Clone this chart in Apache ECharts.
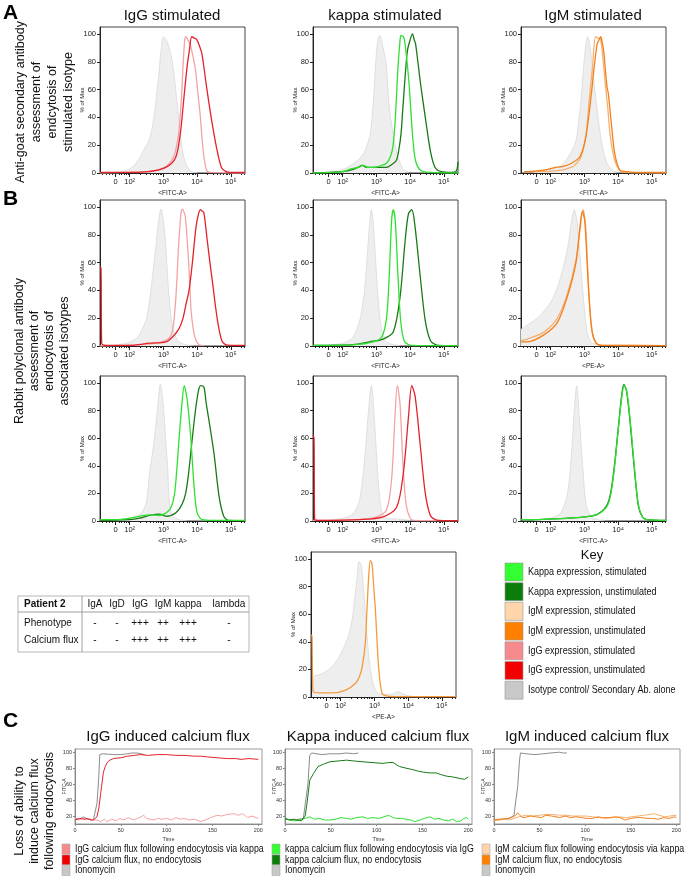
<!DOCTYPE html>
<html>
<head>
<meta charset="utf-8">
<script src="https://cdn.jsdelivr.net/npm/echarts@6/dist/echarts.min.js"></script>
<style>
html, body { margin: 0; padding: 0; background: #fff; }
#main { width: 686px; height: 879px; }
</style>
</head>
<body>
<div id="main"></div>
<script>
// ---- data: histograms, x in decades (logicle display), y in % of max ----
var decadeTicks = [1.58, 2, 3, 4, 5];
var decadeLabels = ['0', '10²', '10³', '10⁴', '10⁵'];
var minorTicks = [1.2, 1.3, 1.4, 1.48, 1.68, 1.76, 1.83, 1.89, 1.95,
    2.3, 2.48, 2.6, 2.7, 2.78, 2.85, 2.9, 2.95,
    3.3, 3.48, 3.6, 3.7, 3.78, 3.85, 3.9, 3.95,
    4.3, 4.48, 4.6, 4.7, 4.78, 4.85, 4.9, 4.95, 5.3, 5.4];
var pctTicks = [0, 20, 40, 60, 80, 100];

// A: anti-goat secondary
var a1Iso = [[1.5,0.5],[1.8,1],[2.0,3],[2.15,6],[2.3,11],[2.45,18],[2.55,22],[2.63,28],[2.72,40],[2.78,52],[2.86,70],[2.93,88],[3.0,98],[3.07,96],[3.15,92],[3.25,82],[3.31,72],[3.41,50],[3.5,28],[3.6,12],[3.72,4],[3.85,1],[4.0,0]];
var a1Stim = [[1.12,0],[2.0,0.5],[2.5,1],[2.8,2],[3.1,5],[3.31,12],[3.45,28],[3.53,52],[3.58,76],[3.63,95],[3.66,98],[3.72,96],[3.8,92],[3.94,76],[4.02,58],[4.09,42],[4.18,16],[4.28,2],[4.4,0.5],[5.42,0]];
var a1Unstim = [[1.12,0.5],[2.0,0.5],[2.58,1],[3.07,4],[3.36,11],[3.5,28],[3.6,52],[3.7,76],[3.77,88],[3.84,98],[3.92,97],[3.99,96],[4.06,92],[4.14,86],[4.28,62],[4.43,38],[4.57,19],[4.72,4],[4.86,1],[5.0,0.5],[5.42,0.5]];

var a2Iso = [[1.6,0.5],[1.95,2],[2.34,7],[2.62,14],[2.75,22],[2.82,28],[2.91,52],[2.98,80],[3.05,97],[3.1,99],[3.16,94],[3.22,88],[3.3,76],[3.39,45],[3.5,28],[3.59,16],[3.78,3],[3.95,0.5]];
var a2Stim = [[1.12,0],[2.0,1],[2.24,3],[2.45,4],[2.62,5.5],[2.75,4],[2.91,4],[3.1,5],[3.3,7],[3.42,12],[3.49,19],[3.55,35],[3.59,52],[3.64,76],[3.7,95],[3.73,99],[3.8,98],[3.83,96],[3.9,82],[3.97,64],[4.07,28],[4.16,9],[4.31,2],[4.55,0.5],[5.42,0]];
var a2Unstim = [[1.12,0],[2.0,1],[2.24,2],[2.45,4],[2.58,5.5],[2.72,4],[3.0,4],[3.3,4],[3.45,6],[3.59,9],[3.66,16],[3.73,28],[3.78,45],[3.83,62],[3.88,78],[3.92,88],[3.98,94],[4.07,100],[4.12,96],[4.16,93],[4.23,80],[4.31,64],[4.45,40],[4.6,16],[4.74,4],[4.93,1],[5.2,0.5],[5.36,1],[5.42,8]];

var a3Iso = [[1.5,0.5],[1.86,2],[2.1,3],[2.33,5.5],[2.52,11.5],[2.65,17],[2.76,24],[2.84,40],[2.9,52],[2.97,75],[3.05,94],[3.1,98],[3.17,90],[3.24,76],[3.31,60],[3.38,45],[3.52,21],[3.67,7],[3.86,1.5],[4.0,0.5]];
var a3Stim = [[1.22,1],[1.8,1],[2.33,2],[2.6,4],[2.71,5.5],[2.9,11.5],[3.05,28],[3.14,52],[3.24,76],[3.33,98],[3.4,97],[3.48,96],[3.55,82],[3.62,64],[3.7,45],[3.76,28],[3.9,9],[4.05,2],[4.2,0.5],[5.42,0]];
var a3Unstim = [[1.22,1],[1.29,1],[1.8,2],[2.14,4],[2.4,5],[2.62,7],[2.86,11.5],[3.0,21],[3.07,30],[3.14,43],[3.22,60],[3.29,76],[3.38,93],[3.44,96],[3.48,98],[3.52,95],[3.57,88],[3.62,75],[3.67,62],[3.71,57],[3.74,50],[3.81,33],[3.9,14],[4.05,2],[4.24,1],[4.5,0.5],[5.42,0.5]];

// B: rabbit polyclonal
var b1Iso = [[1.5,0.5],[1.9,2],[2.1,4],[2.24,6.5],[2.35,11],[2.49,19],[2.56,28],[2.63,40],[2.7,55],[2.78,72],[2.85,88],[2.93,98.5],[3.0,90],[3.07,72],[3.12,52],[3.17,35],[3.27,14],[3.42,4],[3.66,1],[3.9,0.5]];
var b1Stim = [[1.12,0],[2.39,1],[2.8,2],[3.07,4],[3.2,6.5],[3.27,11],[3.32,20],[3.37,35],[3.41,52],[3.45,72],[3.49,86],[3.52,95],[3.56,98.5],[3.6,97],[3.65,93],[3.7,78],[3.75,60],[3.79,40],[3.83,23],[3.93,6.5],[4.05,1],[4.2,0.3]];
var b1Unstim = [[1.12,57],[1.15,56],[1.17,2],[1.3,0.5],[2.0,0.5],[2.59,2],[3.08,3],[3.27,6.5],[3.45,12],[3.57,19],[3.67,30],[3.76,40],[3.86,60],[3.96,84],[4.03,94],[4.1,98],[4.15,97],[4.2,96],[4.3,76],[4.38,60],[4.45,47],[4.6,19],[4.73,4],[4.84,1],[5.0,0.5],[5.42,0.5]];

var b2Iso = [[1.5,0.5],[2.0,2],[2.3,6],[2.5,18],[2.58,28],[2.65,40],[2.75,72],[2.8,88],[2.85,98],[2.9,90],[2.95,72],[3.05,35],[3.15,12],[3.3,3],[3.5,1],[3.7,0.3]];
var b2Stim = [[1.12,0.5],[2.4,1],[2.9,3],[3.15,6],[3.3,20],[3.38,50],[3.45,90],[3.5,98],[3.56,90],[3.64,50],[3.72,18],[3.82,4],[3.95,1],[4.2,0.3],[5.42,0.3]];
var b2Unstim = [[1.12,0.5],[2.3,1],[2.8,3],[3.2,5],[3.5,10],[3.7,35],[3.85,75],[3.95,95],[4.05,98],[4.15,85],[4.3,50],[4.45,18],[4.6,4],[4.75,1],[5.0,0.3],[5.42,0.3]];

var b3Iso = [[1.12,12],[1.3,15],[1.6,20],[1.9,28],[2.1,36],[2.3,50],[2.5,70],[2.62,90],[2.7,98],[2.78,90],[2.88,62],[2.98,32],[3.08,10],[3.2,3],[3.4,1],[3.6,0.3]];
var b3Stim = [[1.12,4],[1.3,5],[1.8,10],[2.2,20],[2.5,38],[2.75,62],[2.88,85],[2.96,98],[3.04,85],[3.1,55],[3.17,25],[3.25,8],[3.35,2],[3.5,0.5],[5.42,0.3]];
var b3Unstim = [[1.12,3],[1.3,3],[1.8,8],[2.2,17],[2.5,36],[2.75,60],[2.86,84],[2.94,97],[3.01,90],[3.08,60],[3.15,30],[3.23,10],[3.35,2],[3.5,0.5],[5.42,0.3]];

var b4Iso = [[1.5,0.5],[1.9,1.5],[2.29,4.5],[2.42,9],[2.49,13],[2.55,25],[2.59,35],[2.67,48],[2.74,61],[2.82,80],[2.91,99],[2.97,90],[3.03,73],[3.08,55],[3.13,37],[3.18,13],[3.28,3.4],[3.47,1],[3.7,0.3]];
var b4Stim = [[1.12,1],[1.6,1],[2.29,3.4],[2.59,4.5],[2.88,4],[3.18,8],[3.32,18],[3.4,38],[3.47,61],[3.55,85],[3.62,98],[3.67,93],[3.72,85],[3.81,61],[3.91,25],[4.0,6],[4.15,1],[4.5,0.5],[5.42,0.5]];
var b4Unstim = [[1.12,0.5],[2.0,1],[2.29,2],[2.59,4],[2.88,5],[3.08,3.4],[3.37,6],[3.55,12],[3.66,20],[3.75,35],[3.81,49],[3.88,65],[3.95,80],[4.03,93],[4.1,98],[4.2,97],[4.27,85],[4.35,73],[4.5,49],[4.65,18],[4.79,3.4],[4.94,0.5],[5.42,0.3]];

var b5Iso = [[1.5,0.5],[2.0,2],[2.3,5],[2.5,15],[2.65,45],[2.75,75],[2.85,98],[2.95,70],[3.05,30],[3.15,8],[3.3,2],[3.6,1.5],[4.0,0.5]];
var b5Stim = [[1.12,0.5],[2.5,1],[3.0,3],[3.3,8],[3.45,30],[3.55,75],[3.62,98],[3.7,85],[3.78,45],[3.88,12],[4.0,2],[4.1,0.5],[5.42,0.2]];
var b5Unstim = [[1.12,62],[1.15,60],[1.17,1],[1.3,0.5],[2.5,1],[3.2,3],[3.6,10],[3.8,35],[3.95,75],[4.05,98],[4.15,90],[4.3,55],[4.45,20],[4.6,4],[4.75,1],[5.0,0.3],[5.42,0.3]];

var b6Iso = [[1.5,0.5],[2.0,2],[2.3,6],[2.5,20],[2.62,50],[2.7,80],[2.77,98],[2.85,75],[2.95,40],[3.05,12],[3.2,3],[3.4,1],[3.6,0.3]];
var b6Stim = [[1.12,1],[1.3,1],[2.5,2],[3.0,3],[3.4,5],[3.7,12],[3.85,30],[4.0,65],[4.1,88],[4.18,98],[4.25,95],[4.35,75],[4.48,40],[4.6,12],[4.72,3],[4.85,1],[5.42,0.5]];
var b6Unstim = [[1.12,1],[1.3,1],[2.5,2],[3.0,3],[3.4,5],[3.7,13],[3.85,32],[4.0,66],[4.1,90],[4.17,99],[4.25,94],[4.35,73],[4.48,38],[4.6,11],[4.72,3],[4.85,1],[5.42,0.5]];

var b7Iso = [[1.15,14],[1.2,15],[1.46,17],[1.75,22],[1.95,29],[2.15,39],[2.25,46],[2.34,56],[2.42,72],[2.49,87],[2.54,98],[2.58,97],[2.62,94],[2.69,75],[2.78,44],[2.88,20],[3.03,5],[3.22,2],[3.5,2],[3.71,4],[3.86,2],[4.11,0.5],[4.5,0.2]];
var b7Unstim = [[1.12,45],[1.15,44],[1.18,4],[1.4,3],[1.75,3],[2.15,5],[2.44,10],[2.56,15],[2.64,22],[2.73,39],[2.78,63],[2.83,87],[2.88,99],[2.93,96],[2.98,80],[3.03,63],[3.08,40],[3.13,20],[3.22,3],[3.32,1],[3.6,0.3],[5.42,0.2]];

// C: calcium flux, x = time, y = FITC-A
var timeTicks = [0, 50, 100, 150, 200];
var fluxTicks = [20, 40, 60, 80, 100];
var c1Iono = [[0,17],[5,16],[9,19],[14,16],[20,15],[22,17],[24,36],[26,70],[27,97],[30,98],[42,97],[50,97],[57,98],[62,99],[68,99],[70,97],[76,97]];
var c1NoEndo = [[0,15],[5,17],[10,16],[13,17],[17,15],[20,15],[22,16],[24,19],[26,30],[28,48],[29,57],[31,75],[33,82],[35,87],[38,90],[42,92],[50,93],[57,95],[65,96],[71,97],[80,96],[90,97],[100,97],[110,96],[120,96],[130,95],[137,95],[145,94],[155,93],[166,92],[175,92],[181,91],[190,92],[200,91]];
var c1Endo = [[0,17],[4,15],[8,17],[12,15],[16,17],[20,15],[24,15],[28,13],[32,16],[35,13],[40,16],[45,14],[49,17],[53,15],[58,18],[64,15],[68,17],[72,19],[75,21],[78,17],[82,16],[86,15],[90,17],[95,16],[100,17],[105,15],[110,18],[115,16],[119,17],[125,15],[130,16],[137,13],[142,15],[148,18],[155,21],[160,20],[166,22],[173,23],[178,21],[183,23],[188,18],[193,20],[200,17]];
var c2Iono = [[0,16],[10,15],[20,17],[22,16],[25,60],[27,96],[29,99],[40,97],[49,98],[60,98],[67,99],[75,98],[80,99]];
var c2NoEndo = [[0,17],[5,15],[10,16],[13,15],[18,14],[20,16],[22,20],[24,36],[27,65],[31,73],[36,82],[42,85],[49,88],[58,89],[67,90],[75,89],[85,88],[95,87],[107,86],[113,87],[118,87],[122,84],[125,82],[132,80],[140,78],[146,76],[151,75],[158,74],[165,74],[170,72],[176,70],[183,69],[191,67],[196,66],[200,69]];
var c2Endo = [[0,17],[5,15],[9,14],[13,14],[18,16],[22,17],[27,19],[32,16],[38,17],[43,15],[49,15],[55,16],[61,18],[67,17],[72,16],[78,18],[85,19],[90,17],[96,18],[102,17],[108,19],[113,21],[118,18],[122,17],[127,17],[132,16],[137,15],[142,13],[147,15],[152,17],[158,19],[163,16],[168,17],[173,15],[178,14],[183,16],[187,13],[192,14],[195,17],[198,18],[200,16]];
var c3Iono = [[0,15],[8,16],[17,17],[22,21],[24,40],[26,57],[28,90],[29,99],[35,98],[45,97],[54,98],[62,99],[72,100],[76,99],[80,99]];
var c3NoEndo = [[0,15],[5,16],[10,16],[15,17],[21,19],[24,21],[26,24],[27,26],[28,22],[30,19],[33,18],[35,17],[40,20],[46,19],[52,18],[57,21],[63,20],[68,19],[72,18],[78,20],[84,18],[90,19],[96,18],[102,17],[108,17],[114,19],[119,18],[126,18],[133,19],[138,18],[144,15],[150,17],[156,18],[162,18],[168,17],[174,17],[180,16],[186,18],[192,17],[198,19],[200,18]];
var c3Endo = [[0,14],[6,15],[12,16],[17,15],[22,17],[27,19],[31,20],[35,21],[42,20],[50,21],[57,22],[64,22],[72,21],[79,21],[86,20],[94,20],[101,20],[108,19],[116,18],[123,17],[130,18],[138,19],[145,18],[151,19],[158,20],[165,21],[171,22],[175,23],[181,21],[187,19],[193,20],[200,21]];

// table + keys
var tableCols = ['IgA', 'IgD', 'IgG', 'IgM', 'kappa', 'lambda'];
var phenotype = ['-', '-', '+++', '++', '+++', '-'];
var calciumFlux = ['-', '-', '+++', '++', '+++', '-'];
var keyLabels = ['Kappa expression, stimulated', 'Kappa expression, unstimulated', 'IgM expression, stimulated',
    'IgM expression, unstimulated', 'IgG expression, stimulated', 'IgG expression, unstimulated',
    'Isotype control/ Secondary Ab. alone'];
var c1Legend = ['IgG calcium flux following endocytosis via kappa', 'IgG calcium flux, no endocytosis', 'Ionomycin'];
var c2Legend = ['kappa calcium flux following endocytosis via IgG', 'kappa calcium flux, no endocytosis', 'Ionomycin'];
var c3Legend = ['IgM calcium flux following endocytosis via kappa', 'IgM calcium flux, no endocytosis', 'Ionomycin'];

// ---- styles ----
var FONT = '"Liberation Sans", Arial, sans-serif';
var isoFill = '#EEEEEE', isoLine = '#D9D9D9';
var colRed = '#E3222A', colPink = '#F4A2A4', colGreen = '#2FE02F', colDkGreen = '#177A17';
var colOrange = '#F2801E', colLtOrange = '#F6B070', colIono = '#6E6E6E';
var keyColors = ['#33FF33', '#0A7D0A', '#FFD6AC', '#FF8000', '#F78A8C', '#F00000', '#C8C8C8'];

var chart = echarts.init(document.getElementById('main'));
var grids = [], xAxes = [], yAxes = [], series = [], graphics = [];

function fmtDecade(v) {
    for (var i = 0; i < decadeTicks.length; i++) {
        if (Math.abs(decadeTicks[i] - v) < 0.01) return decadeLabels[i];
    }
    return '';
}

function hist(left, top, height, xName, curves) {
    var gi = grids.length;
    grids.push({left: left, top: top, width: 145, height: height, show: true,
        borderColor: '#444', borderWidth: 1, outerBoundsMode: 'none', containLabel: false});
    var xi = xAxes.length;
    xAxes.push({
        gridIndex: gi, type: 'value', position: 'bottom', min: 1.12, max: 5.42,
        name: xName, nameLocation: 'middle', nameGap: 17, nameMoveOverlap: false,
        nameTextStyle: {fontSize: 6.5, color: '#222'},
        axisLine: {onZero: false, lineStyle: {color: '#222', width: 1}},
        axisTick: {customValues: decadeTicks, length: 4, lineStyle: {color: '#222'}},
        axisLabel: {customValues: decadeTicks, formatter: fmtDecade, fontSize: 7.5, color: '#222', margin: 5},
        splitLine: {show: false}
    });
    xAxes.push({
        gridIndex: gi, type: 'value', position: 'bottom', min: 1.12, max: 5.42,
        axisLine: {show: false}, axisLabel: {show: false}, splitLine: {show: false},
        axisTick: {customValues: minorTicks, length: 2, lineStyle: {color: '#222'}}
    });
    var yi = yAxes.length;
    yAxes.push({
        gridIndex: gi, type: 'value', min: 0, max: 105,
        name: '% of Max', nameLocation: 'middle', nameGap: 15, nameMoveOverlap: false,
        nameTextStyle: {fontSize: 6, color: '#222'},
        axisLine: {show: true, onZero: false, lineStyle: {color: '#222'}},
        axisTick: {customValues: pctTicks, length: 3, lineStyle: {color: '#222'}},
        axisLabel: {customValues: pctTicks, fontSize: 7.5, color: '#222', margin: 4},
        splitLine: {show: false}
    });
    curves.forEach(function (c) {
        var s = {type: 'line', xAxisIndex: xi, yAxisIndex: yi, data: c.data, symbol: 'none',
            smooth: 0.3, silent: true, lineStyle: {color: c.color, width: c.iso ? 0.8 : 1.3}};
        if (c.iso) s.areaStyle = {color: isoFill, opacity: 1};
        series.push(s);
    });
}

function flux(left, width, curves) {
    var gi = grids.length;
    grids.push({left: left, top: 749, width: width, height: 75, show: true,
        borderColor: '#999', borderWidth: 1, outerBoundsMode: 'none', containLabel: false});
    var xi = xAxes.length;
    xAxes.push({
        gridIndex: gi, type: 'value', position: 'bottom', min: 0, max: 204,
        name: 'Time', nameLocation: 'middle', nameGap: 12, nameMoveOverlap: false,
        nameTextStyle: {fontSize: 5.5, color: '#333'},
        axisLine: {onZero: false, lineStyle: {color: '#888'}},
        axisTick: {customValues: timeTicks, length: 2, lineStyle: {color: '#888'}},
        axisLabel: {customValues: timeTicks, fontSize: 5.5, color: '#333', margin: 3},
        splitLine: {show: false}
    });
    var yi = yAxes.length;
    yAxes.push({
        gridIndex: gi, type: 'value', min: 10, max: 104,
        name: 'FITC-A', nameLocation: 'middle', nameGap: 8, nameMoveOverlap: false,
        nameTextStyle: {fontSize: 5, color: '#333'},
        axisLine: {show: true, onZero: false, lineStyle: {color: '#888'}},
        axisTick: {customValues: fluxTicks, length: 2, lineStyle: {color: '#888'}},
        axisLabel: {customValues: fluxTicks, fontSize: 5.5, color: '#333', margin: 3},
        splitLine: {show: false}
    });
    curves.forEach(function (c) {
        series.push({type: 'line', xAxisIndex: xi, yAxisIndex: yi, data: c.data, symbol: 'none',
            silent: true, lineStyle: {color: c.color, width: c.w || 1}});
    });
}

function txt(x, y, s, size, o) {
    o = o || {};
    var al = o.align || 'center';
    return {
        type: 'text', x: x, y: y, rotation: o.rot || 0, scaleX: o.sx || 1, silent: true,
        style: {text: s, font: (o.bold ? 'bold ' : '') + size + 'px ' + FONT, fill: o.color || '#111',
            align: al, verticalAlign: 'middle', textAlign: al, textVerticalAlign: 'middle',
            lineHeight: o.lh}
    };
}
function rect(x, y, w, h, fill, stroke) {
    return {type: 'rect', silent: true, shape: {x: x, y: y, width: w, height: h},
        style: {fill: fill, stroke: stroke || null, lineWidth: 0.6}};
}
function hline(x1, y1, x2, y2, col) {
    return {type: 'line', silent: true, shape: {x1: x1, y1: y1, x2: x2, y2: y2},
        style: {stroke: col || '#888', lineWidth: 0.8}};
}

// panel A
hist(100, 27, 146, '<FITC-A>', [{data: a1Iso, color: isoLine, iso: true}, {data: a1Stim, color: colPink}, {data: a1Unstim, color: colRed}]);
hist(313, 27, 146, '<FITC-A>', [{data: a2Iso, color: isoLine, iso: true}, {data: a2Unstim, color: colDkGreen}, {data: a2Stim, color: colGreen}]);
hist(521, 27, 146, '<FITC-A>', [{data: a3Iso, color: isoLine, iso: true}, {data: a3Stim, color: colLtOrange}, {data: a3Unstim, color: colOrange}]);
// panel B
hist(100, 200, 146, '<FITC-A>', [{data: b1Iso, color: isoLine, iso: true}, {data: b1Stim, color: colPink}, {data: b1Unstim, color: colRed}]);
hist(313, 200, 146, '<FITC-A>', [{data: b2Iso, color: isoLine, iso: true}, {data: b2Unstim, color: colDkGreen}, {data: b2Stim, color: colGreen}]);
hist(521, 200, 146, '<PE-A>', [{data: b3Iso, color: isoLine, iso: true}, {data: b3Stim, color: colLtOrange}, {data: b3Unstim, color: colOrange}]);
hist(100, 376, 145, '<FITC-A>', [{data: b4Iso, color: isoLine, iso: true}, {data: b4Unstim, color: colDkGreen}, {data: b4Stim, color: colGreen}]);
hist(313, 376, 145, '<FITC-A>', [{data: b5Iso, color: isoLine, iso: true}, {data: b5Stim, color: colPink}, {data: b5Unstim, color: colRed}]);
hist(521, 376, 145, '<FITC-A>', [{data: b6Iso, color: isoLine, iso: true}, {data: b6Unstim, color: colDkGreen}, {data: b6Stim, color: colGreen}]);
hist(311, 552, 145, '<PE-A>', [{data: b7Iso, color: isoLine, iso: true}, {data: b7Unstim, color: '#F39A3E'}]);
// panel C
flux(75, 187, [{data: c1Iono, color: colIono, w: 0.8}, {data: c1Endo, color: colPink}, {data: c1NoEndo, color: colRed}]);
flux(285, 187, [{data: c2Iono, color: colIono, w: 0.8}, {data: c2Endo, color: colGreen}, {data: c2NoEndo, color: colDkGreen}]);
flux(494, 186, [{data: c3Iono, color: colIono, w: 0.8}, {data: c3Endo, color: colLtOrange}, {data: c3NoEndo, color: colOrange}]);

// headings
graphics.push(txt(3, 13, 'A', 21, {bold: true, align: 'left', color: '#000'}));
graphics.push(txt(3, 199, 'B', 21, {bold: true, align: 'left', color: '#000'}));
graphics.push(txt(3, 721, 'C', 21, {bold: true, align: 'left', color: '#000'}));
graphics.push(txt(172, 16, 'IgG stimulated', 15));
graphics.push(txt(385, 16, 'kappa stimulated', 15));
graphics.push(txt(593, 16, 'IgM stimulated', 15));
graphics.push(txt(168, 737, 'IgG induced calcium flux', 15));
graphics.push(txt(378, 737, 'Kappa induced calcium flux', 15));
graphics.push(txt(587, 737, 'IgM induced calcium flux', 15));
graphics.push(txt(45, 102, 'Anti-goat secondary antibody\nassessment of\nendcytosis of\nstimulated isotype', 12.5, {rot: Math.PI / 2, lh: 16}));
graphics.push(txt(42, 351, 'Rabbit polyclonal antibody\nassessment of\nendocytosis of\nassociated isotypes', 12.5, {rot: Math.PI / 2, lh: 15}));
graphics.push(txt(35, 811, 'Loss of ability to\ninduce calcium flux\nfollowing endocytosis', 12.5, {rot: Math.PI / 2, lh: 15}));

// table
var colX = [95, 117, 140, 163, 188, 229];
graphics.push(rect(18, 596, 231, 56, null, '#888'));
graphics.push(hline(82, 596, 82, 652));
graphics.push(hline(18, 612, 249, 612));
graphics.push(txt(24, 604, 'Patient 2', 10, {bold: true, align: 'left'}));
graphics.push(txt(24, 623, 'Phenotype', 10, {align: 'left'}));
graphics.push(txt(24, 640, 'Calcium flux', 10, {align: 'left'}));
tableCols.forEach(function (c, i) {
    graphics.push(txt(colX[i], 604, c, 10));
    graphics.push(txt(colX[i], 623, phenotype[i], 10));
    graphics.push(txt(colX[i], 640, calciumFlux[i], 10));
});

// key
graphics.push(txt(592, 555, 'Key', 13));
keyLabels.forEach(function (k, i) {
    var y = 563 + i * 19.7;
    graphics.push(rect(505, y, 18, 18, keyColors[i], '#999'));
    graphics.push(txt(528, y + 9, k, 10.5, {align: 'left', sx: 0.86}));
});

// C legends
function fluxLegend(sx, labels, colors) {
    labels.forEach(function (l, i) {
        var y = 849 + i * 10.8;
        graphics.push(rect(sx, y - 5, 8, 10, colors[i], '#aaa'));
        graphics.push(txt(sx + 13, y, l, 10.5, {align: 'left', sx: 0.84}));
    });
}
fluxLegend(62, c1Legend, ['#F78A8C', '#F00000', '#C8C8C8']);
fluxLegend(272, c2Legend, ['#33FF33', '#0A7D0A', '#C8C8C8']);
fluxLegend(482, c3Legend, ['#FFD6AC', '#FF8000', '#C8C8C8']);

chart.setOption({
    animation: false,
    textStyle: {fontFamily: FONT},
    grid: grids,
    xAxis: xAxes,
    yAxis: yAxes,
    series: series,
    graphic: graphics
});
</script>
</body>
</html>
